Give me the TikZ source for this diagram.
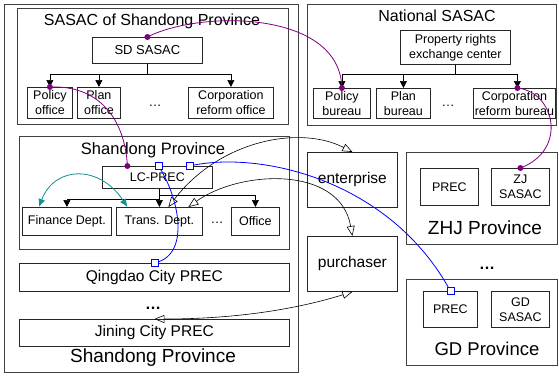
\documentclass[tikz,border=0pt]{standalone}
\usepackage{fontspec}
\setmainfont{Liberation Sans}
\usetikzlibrary{arrows.meta}
\definecolor{linkpurple}{HTML}{800080}
\definecolor{linkteal}{HTML}{109090}
\definecolor{linkblue}{HTML}{0000FF}
\newcommand\fs[1]{\fontsize{#1}{15}\selectfont}
\begin{document}
\begin{tikzpicture}[x=1pt,y=-1pt,
  frame/.style={draw=black!75, line width=0.8pt},
  unit/.style={draw=black!85, line width=0.8pt, inner sep=0pt, align=center, anchor=north west, font=\fs{12.5}},
  title/.style={inner sep=0pt, font=\fs{16}},
  tree/.style={draw=black, line width=0.7pt},
  treetip/.style={tree, -{Triangle[length=7pt,width=7pt]}},
  flow/.style={draw=black, line width=0.6pt, {Triangle[open,length=10pt,width=8pt]}-{Triangle[open,length=10pt,width=8pt]}},
  holds/.style={draw=linkpurple, line width=0.8pt},
  holddot/.style={fill=linkpurple, circle, inner sep=0pt, minimum size=6pt},
  trade/.style={draw=linkblue, line width=0.8pt},
  tradebox/.style={draw=linkblue, fill=white, line width=0.8pt, inner sep=0pt, minimum size=7pt},
  swap/.style={draw=linkteal, line width=0.8pt, {Latex[length=8pt,width=7pt]}-{Latex[length=8pt,width=7pt]}}
]
\useasboundingbox (0,0) rectangle (559,375);

% ---------- Shandong side ----------
\draw[frame] (4,4) rectangle (298,372);
\draw[frame] (17,8) rectangle (288,124);
\node[title] (sdtitle) at (152,21) {SASAC of Shandong Province};
\node[unit, font=\fs{13}, minimum width=110pt, minimum height=26pt] (sdsasac) at (92,37) {SD SASAC};
\node[unit, minimum width=45pt, minimum height=31pt] (policyO) at (27,87) {Policy\\office};
\node[unit, minimum width=43pt, minimum height=31pt] (planO) at (77,87) {Plan\\office};
\node[font=\fs{13}] (dotsO) at (155,106) {\dots};
\node[unit, minimum width=85pt, minimum height=31pt] (corpO) at (188,87) {Corporation\\reform office};

\draw[tree] (sdsasac.south) -- (sdsasac.south |- 0,74);
\draw[tree] (policyO.north |- 0,74) -- (corpO.north |- 0,74);
\foreach \b in {policyO,planO,corpO}
  \draw[treetip] (\b.north |- 0,74) -- (\b.north);

\draw[frame] (19,136) rectangle (289,249);
\node[title, font=\fs{16.5}] (provtitle) at (153,150) {Shandong Province};
\node[unit, minimum width=110pt, minimum height=22pt] (lcprec) at (102,166) {LC-PREC};
\node[unit, minimum width=89pt, minimum height=28pt] (finance) at (22,207) {Finance Dept.};
\node[unit, minimum width=86pt, minimum height=28pt] (trans) at (116,207) {Trans. Dept.};
\node[font=\fs{13}] (dotsD) at (217,223) {\dots};
\node[unit, minimum width=48pt, minimum height=28pt] (office) at (231,207) {Office};

\draw[treetip] (trans.north |- lcprec.south) -- (trans.north);
\draw[tree] (trans.north |- 0,199) -- (finance.north |- 0,199);
\draw[treetip] (finance.north |- 0,199) -- (finance.north);
\draw[tree] (trans.north |- 0,195) -- (office.north |- 0,195);
\draw[treetip] (office.north |- 0,195) -- (office.north);

\node[unit, font=\fs{15.5}, minimum width=270pt, minimum height=28pt] (qingdao) at (19,263) {Qingdao City PREC};
\node[font=\bfseries\fs{16}] (dotsC) at (153,308) {\dots};
\node[unit, font=\fs{15.5}, minimum width=270pt, minimum height=27pt] (jining) at (19,319) {Jining City PREC};
\node[title, font=\fs{19}] (sdlabel) at (153,358) {Shandong Province};

% ---------- National side ----------
\draw[frame] (307,4) rectangle (556,125);
\node[title] (natitle) at (437,16) {National SASAC};
\node[unit, minimum width=110pt, minimum height=34pt] (prop) at (400,30) {Property rights\\exchange center};
\node[unit, minimum width=57pt, minimum height=30pt] (policyB) at (313,88) {Policy\\bureau};
\node[unit, minimum width=54pt, minimum height=30pt] (planB) at (376,88) {Plan\\bureau};
\node[font=\fs{13}] (dotsB) at (448,106) {\dots};
\node[unit, minimum width=82pt, minimum height=30pt, text width=82pt] (corpB) at (473,88) {Corporation\\reform bureau};

\draw[tree] (prop.south) -- (prop.south |- 0,74);
\draw[tree] (policyB.north |- 0,74) -- ([xshift=3pt]corpB.north |- 0,74);
\draw[treetip] (policyB.north |- 0,74) -- (policyB.north);
\draw[treetip] (planB.north |- 0,74) -- (planB.north);
\draw[treetip] ([xshift=3pt]corpB.north |- 0,74) -- ([xshift=3pt]corpB.north);

% ---------- market and other provinces ----------
\node[unit, font=\fs{15.5}, minimum width=90pt, minimum height=55pt] (enterprise) at (307,152) {enterprise};
\node[unit, font=\fs{15.5}, minimum width=90pt, minimum height=55pt] (purchaser) at (307,236) {purchaser};

\draw[frame] (406,152) rectangle (557,244);
\node[unit, minimum width=58pt, minimum height=37pt] (precZ) at (420,168) {PREC};
\node[unit, minimum width=58pt, minimum height=37pt] (zjsasac) at (491,168) {ZJ\\SASAC};
\node[title, font=\fs{19}] (zhjlabel) at (485,228) {ZHJ Province};
\node[font=\bfseries\fs{16}] (dotsP) at (487,268) {\dots};
\draw[frame] (406,279) rectangle (557,365);
\node[unit, minimum width=54pt, minimum height=36pt] (precG) at (423,291) {PREC};
\node[unit, minimum width=58pt, minimum height=36pt] (gdsasac) at (491,291) {GD\\SASAC};
\node[title, font=\fs{18.5}] (gdlabel) at (487,349) {GD Province};

% ---------- transactions between units ----------
\draw[flow] ([xshift=9pt]trans.north) .. controls (220,140) and (300,125) .. (enterprise.north);
\draw[flow] ([xshift=29pt]trans.north) .. controls (240,170) and (340,165) .. (purchaser.north);
\draw[flow] (jining.north) .. controls (250,319) and (310,305) .. (purchaser.south);

\draw[swap] ([xshift=-28pt]finance.north) .. controls (55,165) and (100,165) .. ([xshift=-32pt]trans.north);

% supervision links
\draw[holds] (sdsasac.north) .. controls (200,10) and (340,10) .. (policyB.north);
\draw[holds] (policyO.north) .. controls (100,85) and (125,120) .. ([xshift=-30pt]lcprec.north);
\draw[holds] ([xshift=3pt]corpB.north) .. controls (555,92) and (568,150) .. (zjsasac.north);
\foreach \p in {(sdsasac.north),(policyB.north),(policyO.north),([xshift=-30pt]lcprec.north),([xshift=3pt]corpB.north),(zjsasac.north)}
  \node[holddot] at \p {};

% trading links
\draw[trade] ([xshift=1pt]lcprec.north) .. controls (178,195) and (192,255) .. (qingdao.north);
\draw[trade] ([xshift=32pt]lcprec.north) .. controls (260,150) and (390,180) .. (precG.north);
\foreach \p in {([xshift=1pt]lcprec.north),([xshift=32pt]lcprec.north),(qingdao.north),(precG.north)}
  \node[tradebox] at \p {};
\end{tikzpicture}
\end{document}
